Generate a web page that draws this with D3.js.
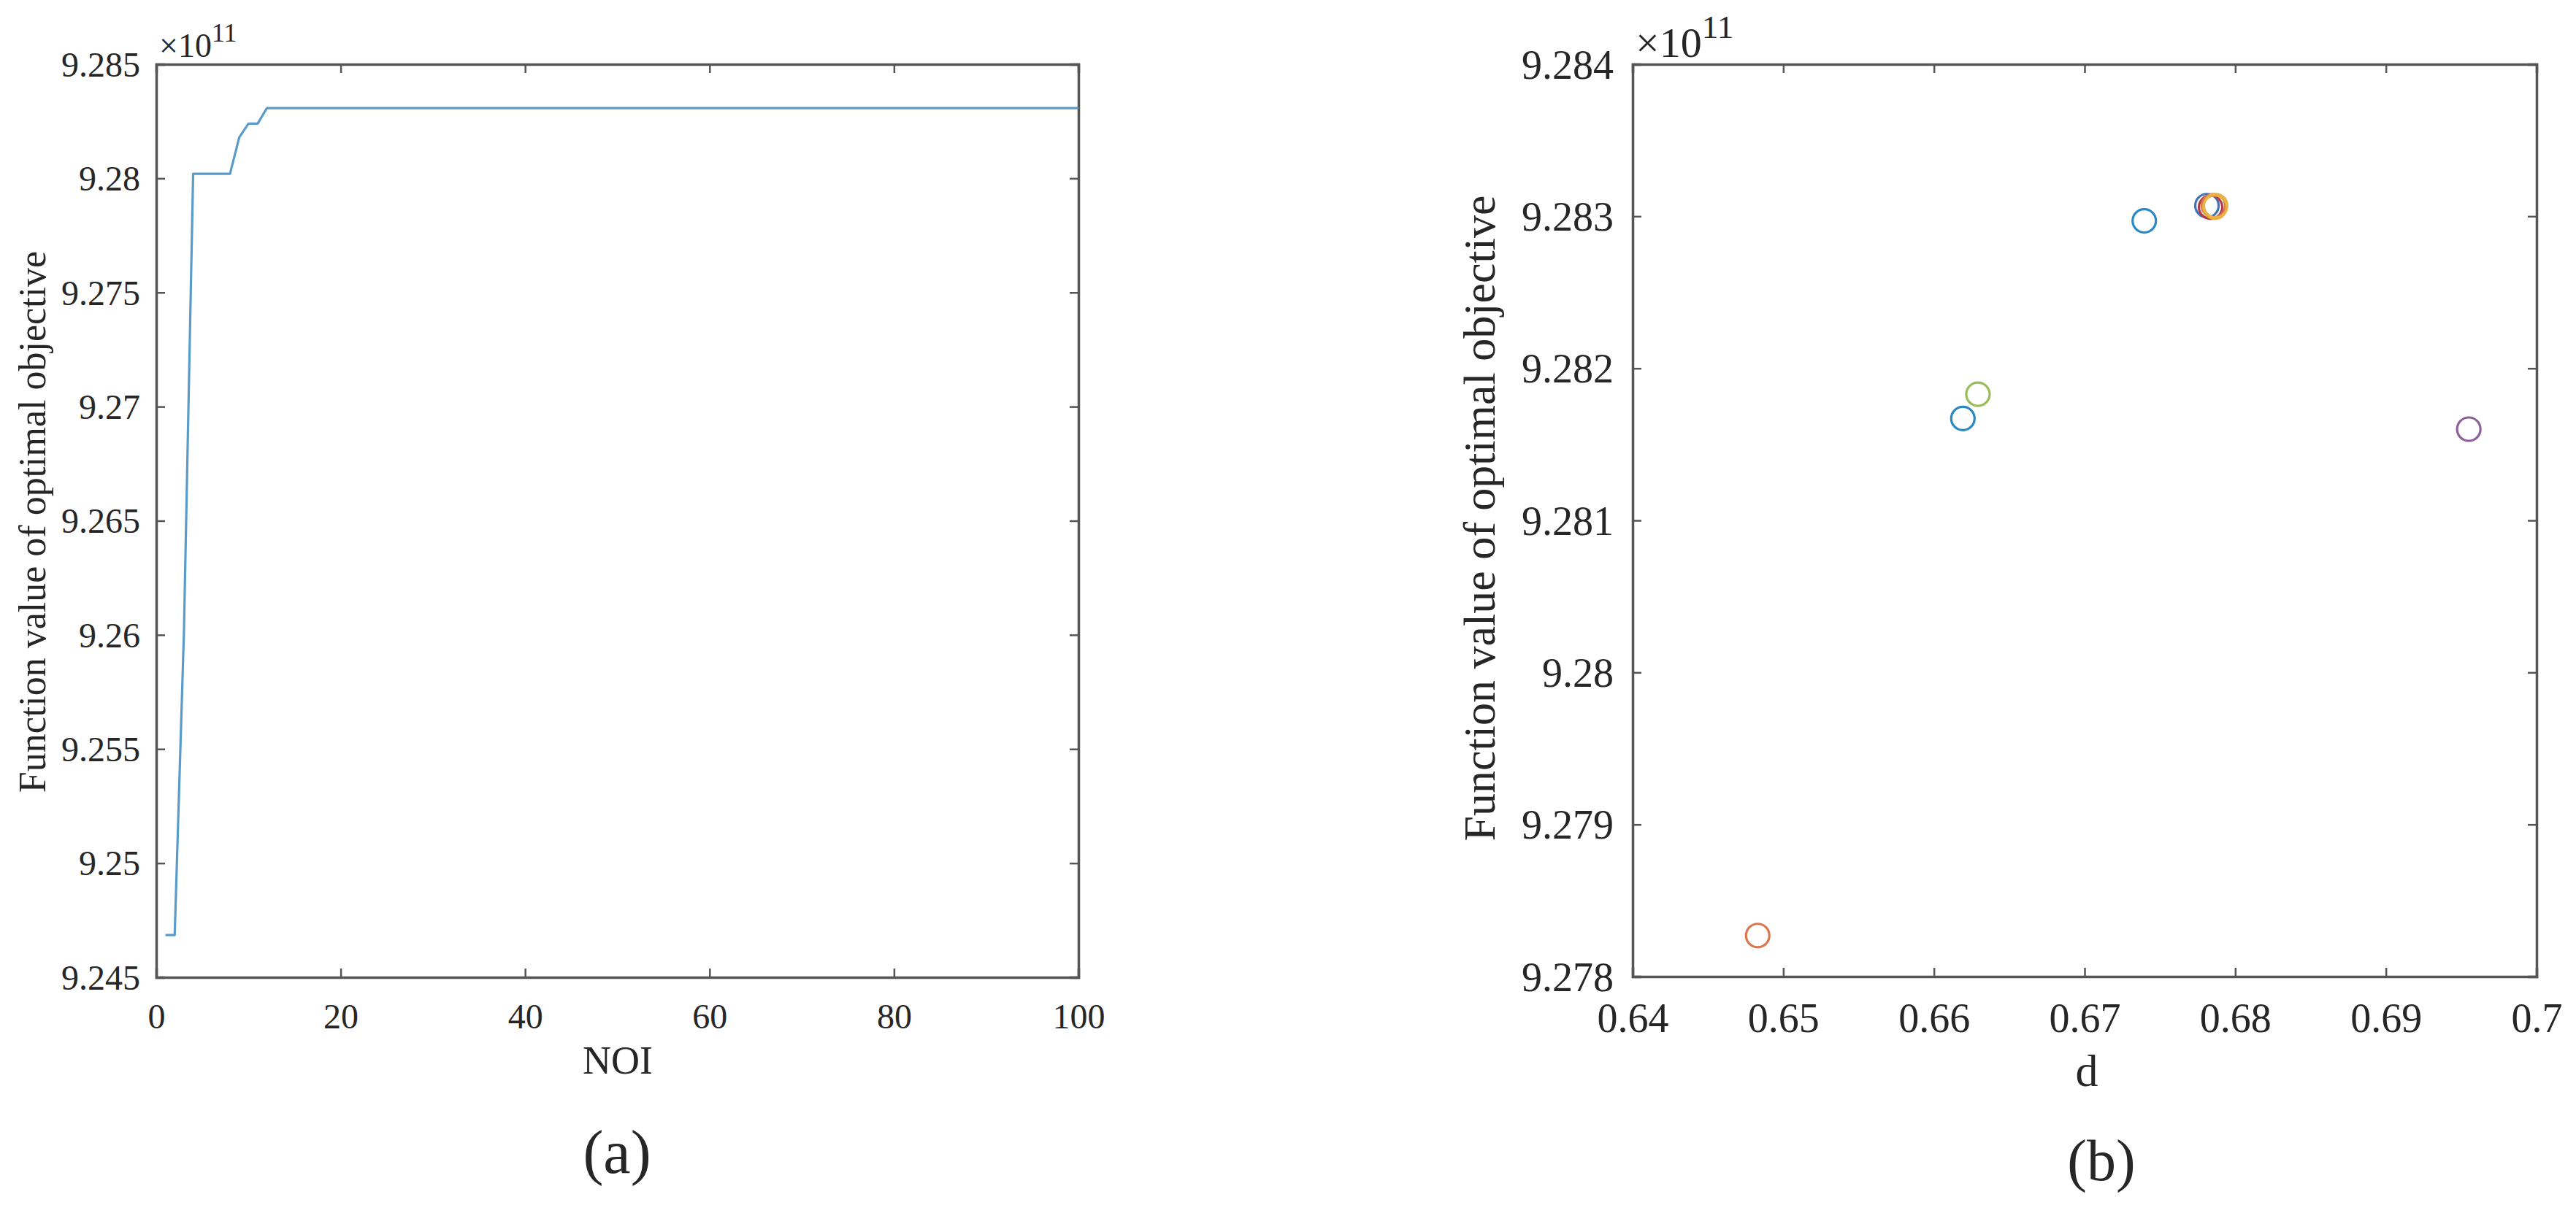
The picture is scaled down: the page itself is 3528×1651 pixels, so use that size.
<!DOCTYPE html>
<html>
<head>
<meta charset="utf-8">
<script src="https://cdn.jsdelivr.net/npm/d3@7"></script>
<style>
  html, body { margin: 0; padding: 0; background: #ffffff; }
  svg { display: block; }
  text { font-family: "Liberation Serif", "Times New Roman", serif; fill: #262626; }
</style>
</head>
<body>
<svg id="chart" width="3528" height="1651"></svg>
<script>
// ---------------- data (values in units of 1e11) ----------------
const noiX = [1, 2, 3, 4, 8, 9, 10, 11, 12, 100];
const noiY = [9.24685, 9.24685, 9.2601, 9.2802, 9.2802, 9.2818, 9.2824, 9.2824, 9.28308, 9.28308];

const dVals = [0.6483, 0.66192, 0.66292, 0.67396, 0.67812, 0.67836, 0.67855, 0.67865, 0.67870, 0.6955];
const fVals = [9.27827, 9.28167, 9.28183, 9.28297, 9.28307, 9.28306, 9.28307, 9.28306, 9.28307, 9.28160];
const pointColors = ["#d9774f", "#2a88c5", "#97bd5a", "#2a88c5", "#3f74b8", "#b23a48", "#d9774f", "#e6ad3c", "#e8b448", "#8e5f9a"];

const leftXTicks = [0, 20, 40, 60, 80, 100];
const leftYTicks = [9.245, 9.25, 9.255, 9.26, 9.265, 9.27, 9.275, 9.28, 9.285];
const leftYLabels = ["9.245", "9.25", "9.255", "9.26", "9.265", "9.27", "9.275", "9.28", "9.285"];
const rightXTicks = [0.64, 0.65, 0.66, 0.67, 0.68, 0.69, 0.7];
const rightXLabels = ["0.64", "0.65", "0.66", "0.67", "0.68", "0.69", "0.7"];
const rightYTicks = [9.278, 9.279, 9.28, 9.281, 9.282, 9.283, 9.284];
const rightYLabels = ["9.278", "9.279", "9.28", "9.281", "9.282", "9.283", "9.284"];

const yLabelText = "Function value of optimal objective";

// ---------------- drawing ----------------
const svg = d3.select("#chart");
const axisColor = "#555555";

function drawPanel(cfg) {
  const g = svg.append("g");
  const x = d3.scaleLinear().domain(cfg.xDomain).range([cfg.left, cfg.right]);
  const y = d3.scaleLinear().domain(cfg.yDomain).range([cfg.bottom, cfg.top]);
  const tl = 12;

  // axes via d3 axis generators (inward ticks)
  const axB = d3.axisBottom(x).tickValues(cfg.xTicks).tickSize(-tl).tickFormat((d, i) => cfg.xLabels[i]).tickPadding(tl + 24);
  const axT = d3.axisTop(x).tickValues(cfg.xTicks).tickSize(-tl).tickFormat("");
  const axL = d3.axisLeft(y).tickValues(cfg.yTicks).tickSize(-tl).tickFormat((d, i) => cfg.yLabels[i]).tickPadding(tl + cfg.yPad);
  const axR = d3.axisRight(y).tickValues(cfg.yTicks).tickSize(-tl).tickFormat("");

  const gb = g.append("g").attr("transform", `translate(0,${cfg.bottom})`).call(axB);
  const gt = g.append("g").attr("transform", `translate(0,${cfg.top})`).call(axT);
  const gl = g.append("g").attr("transform", `translate(${cfg.left},0)`).call(axL);
  const gr = g.append("g").attr("transform", `translate(${cfg.right},0)`).call(axR);
  [gb, gt, gl, gr].forEach(a => {
    a.select(".domain").attr("stroke", axisColor).attr("stroke-width", 3.5);
    a.selectAll(".tick line").attr("stroke", axisColor).attr("stroke-width", 2.5);
    a.selectAll(".tick text").attr("font-family", "Liberation Serif, serif").attr("font-size", cfg.tickFont).attr("fill", "#262626");
  });
  gb.selectAll(".tick text").attr("dy", "0.71em");
  gl.selectAll(".tick text").attr("dy", "0.34em");

  // exponent label
  const ex = g.append("text").attr("x", cfg.left + 4).attr("y", cfg.top - 10).attr("font-size", cfg.expFont);
  ex.append("tspan").text("\u00d710");
  ex.append("tspan").attr("dy", -cfg.expFont * 0.45).attr("font-size", cfg.expFont * 0.78).text("11");

  // x label
  g.append("text").attr("x", cfg.xLabelX).attr("y", cfg.xLabelY).attr("text-anchor", "middle")
    .attr("font-size", cfg.labelFont).text(cfg.xLabel);
  // y label
  g.append("text").attr("transform", `translate(${cfg.yLabelX},${cfg.yLabelY}) rotate(-90)`)
    .attr("text-anchor", "middle").attr("font-size", cfg.yLabelFont).text(yLabelText);
  // caption
  g.append("text").attr("x", cfg.capX).attr("y", cfg.capY).attr("text-anchor", "middle")
    .attr("font-size", cfg.capFont).text(cfg.caption);

  return { g, x, y };
}

// Panel (a)
const pa = drawPanel({
  xDomain: [0, 100], yDomain: [9.245, 9.285],
  left: 214, right: 1477, top: 88, bottom: 1339,
  xTicks: leftXTicks, xLabels: leftXTicks.map(String),
  yTicks: leftYTicks, yLabels: leftYLabels, yPad: 10,
  tickFont: 48, expFont: 46, labelFont: 54, yLabelFont: 52,
  xLabel: "NOI", xLabelX: 846, xLabelY: 1471,
  yLabelX: 62, yLabelY: 715,
  caption: "(a)", capX: 845, capY: 1607, capFont: 84
});
pa.g.append("path")
  .datum(noiX.map((v, i) => [v, noiY[i]]))
  .attr("fill", "none")
  .attr("stroke", "#5b9bc9")
  .attr("stroke-width", 3.2)
  .attr("stroke-linejoin", "round")
  .attr("d", d3.line().x(d => pa.x(d[0])).y(d => pa.y(d[1])));

// Panel (b)
const pb = drawPanel({
  xDomain: [0.64, 0.7], yDomain: [9.278, 9.284],
  left: 2236, right: 3474, top: 88, bottom: 1338,
  xTicks: rightXTicks, xLabels: rightXLabels,
  yTicks: rightYTicks, yLabels: rightYLabels, yPad: 14,
  tickFont: 56, expFont: 58, labelFont: 62, yLabelFont: 62,
  xLabel: "d", xLabelX: 2858, xLabelY: 1488,
  yLabelX: 2047, yLabelY: 710,
  caption: "(b)", capX: 2878, capY: 1617, capFont: 80
});
pb.g.selectAll("circle.pt")
  .data(dVals.map((v, i) => ({ d: v, f: fVals[i], c: pointColors[i] })))
  .enter().append("circle")
  .attr("class", "pt")
  .attr("cx", d => pb.x(d.d))
  .attr("cy", d => pb.y(d.f))
  .attr("r", 16)
  .attr("fill", "none")
  .attr("stroke", d => d.c)
  .attr("stroke-width", 3.2);
</script>
</body>
</html>
